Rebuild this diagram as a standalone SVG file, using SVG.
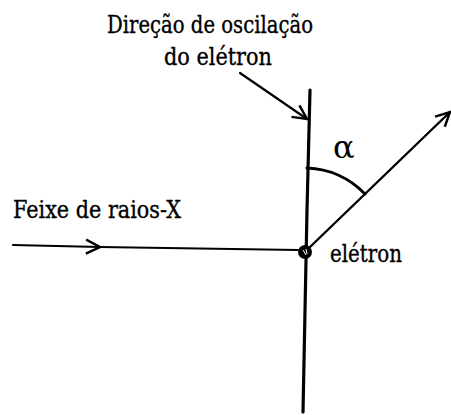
<svg xmlns="http://www.w3.org/2000/svg" width="451" height="415" viewBox="0 0 451 415">
  <defs>
    <marker id="open" viewBox="0 0 18 18" refX="16" refY="9" markerWidth="18" markerHeight="18" markerUnits="userSpaceOnUse" orient="auto">
      <path d="M2,2 L16,9 L2,16" fill="none" stroke="#000" stroke-width="2.4" stroke-linejoin="miter"/>
    </marker>
    <style>
      .ln { fill: none; stroke: #000; stroke-linecap: round; }
      .t { fill: #000; stroke: #000; stroke-width: 0.35px; }
    </style>
  </defs>
  <rect width="451" height="415" fill="#fff"/>

  <g id="connectors">
    <polyline class="ln" points="310,90 307,210 303,412" stroke-width="3.2"/>
    <line class="ln" x1="240" y1="73" x2="307" y2="119" stroke-width="2.2" marker-end="url(#open)"/>
    <line class="ln" x1="13" y1="245" x2="100" y2="247" stroke-width="2.2" marker-end="url(#open)"/>
    <line class="ln" x1="100" y1="247" x2="298" y2="250" stroke-width="2"/>
    <line class="ln" x1="310" y1="247" x2="450" y2="112" stroke-width="2.4" marker-end="url(#open)"/>
    <path class="ln" d="M307,168 A84,84 0 0 1 365,194" stroke-width="3"/>
  </g>

  <g id="electron">
    <circle cx="305" cy="252" r="7" fill="#000"/>
    <path d="M303,250 L306,255 M306,249 L307,254" stroke="#fff" stroke-width="1" fill="none"/>
    <text class="t" style="font-family:'DejaVu Serif',serif;font-size:23.5px" x="330" y="262" textLength="72" lengthAdjust="spacingAndGlyphs">elétron</text>
  </g>

  <g id="label-direcao">
    <text class="t" style="font-family:'DejaVu Serif',serif;font-size:23.5px" x="107" y="33" textLength="206" lengthAdjust="spacingAndGlyphs">Direção de oscilação</text>
    <text class="t" style="font-family:'DejaVu Serif',serif;font-size:23.5px" x="164" y="65" textLength="108" lengthAdjust="spacingAndGlyphs">do elétron</text>
  </g>

  <g id="label-feixe">
    <text class="t" style="font-family:'DejaVu Serif',serif;font-size:23.5px" x="13" y="218" textLength="168" lengthAdjust="spacingAndGlyphs">Feixe de raios-X</text>
  </g>

  <g id="label-alpha">
    <text style="font-family:'DejaVu Serif',serif;font-size:32px" x="333" y="158">α</text>
  </g>
</svg>
